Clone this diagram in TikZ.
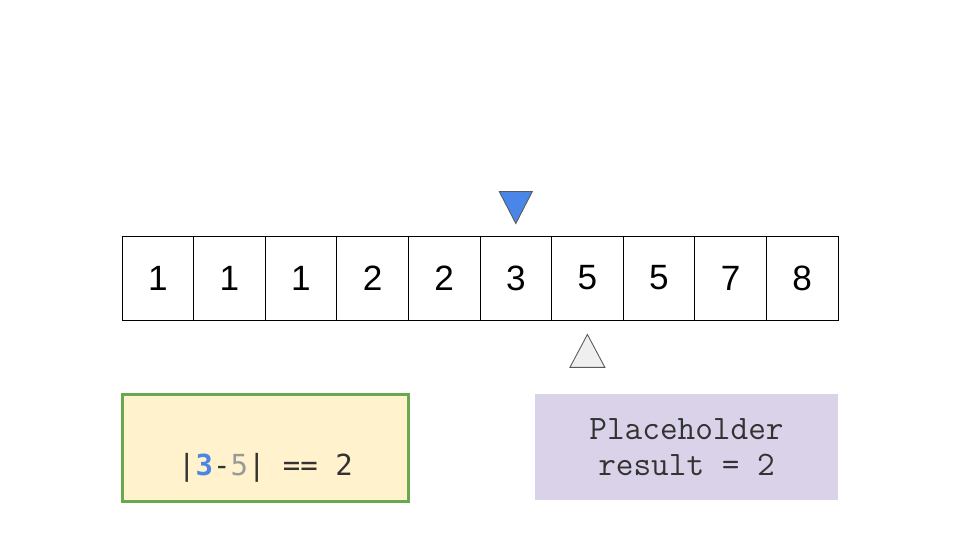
\documentclass[tikz,border=0pt]{standalone}
\usepackage{fontspec}
\setmainfont{Liberation Sans}
\newfontfamily\codefont{DejaVu Sans Mono}
\usetikzlibrary{calc}

\definecolor{ptrblue}{HTML}{4A86E8}
\definecolor{ptrgrey}{HTML}{EFEFEF}
\definecolor{ptredge}{HTML}{595959}
\definecolor{notegreen}{HTML}{6AA84F}
\definecolor{noteyellow}{HTML}{FFF2CC}
\definecolor{notepurple}{HTML}{D9D2E9}
\definecolor{codegrey}{HTML}{999999}
\definecolor{codedark}{HTML}{333333}

\tikzset{
    cell/.style={draw=black, line width=0.5pt, minimum width=1.432cm, minimum height=1.68cm,
        inner sep=0pt, font=\fontsize{20}{24}\selectfont},
    ptr/.style={draw=ptredge, line width=0.5pt, line join=miter},
    notebox/.style={minimum height=2.13cm, inner sep=0pt, align=center}
}

\begin{document}
\begin{tikzpicture}
        \useasboundingbox (0,0) rectangle (19.2,10.8);

        % Draw the array
        \foreach \v [count=\i] in {1,1,1,2,2,3,5,5,7,8} {
            \node[cell] (c\i) at ({2.44+0.716+(\i-1)*1.432},5.24) {\v};
        }

        % Pointers above and below
        \draw[ptr, fill=ptrblue] ($(c6.north)+(0,0.24)$) -- ($(c6.north)+(-0.33,0.88)$)
            -- ($(c6.north)+(0.33,0.88)$) -- cycle;
        \draw[ptr, fill=ptrgrey] ($(c7.south)+(0,-0.28)$) -- ($(c7.south)+(-0.35,-0.94)$)
            -- ($(c7.south)+(0.35,-0.94)$) -- cycle;

        % Notes
        \node[notebox, draw=notegreen, line width=1.7pt, fill=noteyellow, minimum width=5.72cm,
            font=\fontsize{16.5}{21}\selectfont\codefont\color{codedark}] (diff) at (5.31,1.84)
            {\strut\\|{\color{ptrblue}\bfseries 3}-{\color{codegrey}5}| == 2};
        \node[notebox, fill=notepurple, minimum width=6.06cm,
            font=\fontsize{19.5}{20.5}\selectfont\ttfamily\color{codedark}] (result) at (13.73,1.86)
            {Placeholder\\result = 2};
    \end{tikzpicture}
\end{document}
